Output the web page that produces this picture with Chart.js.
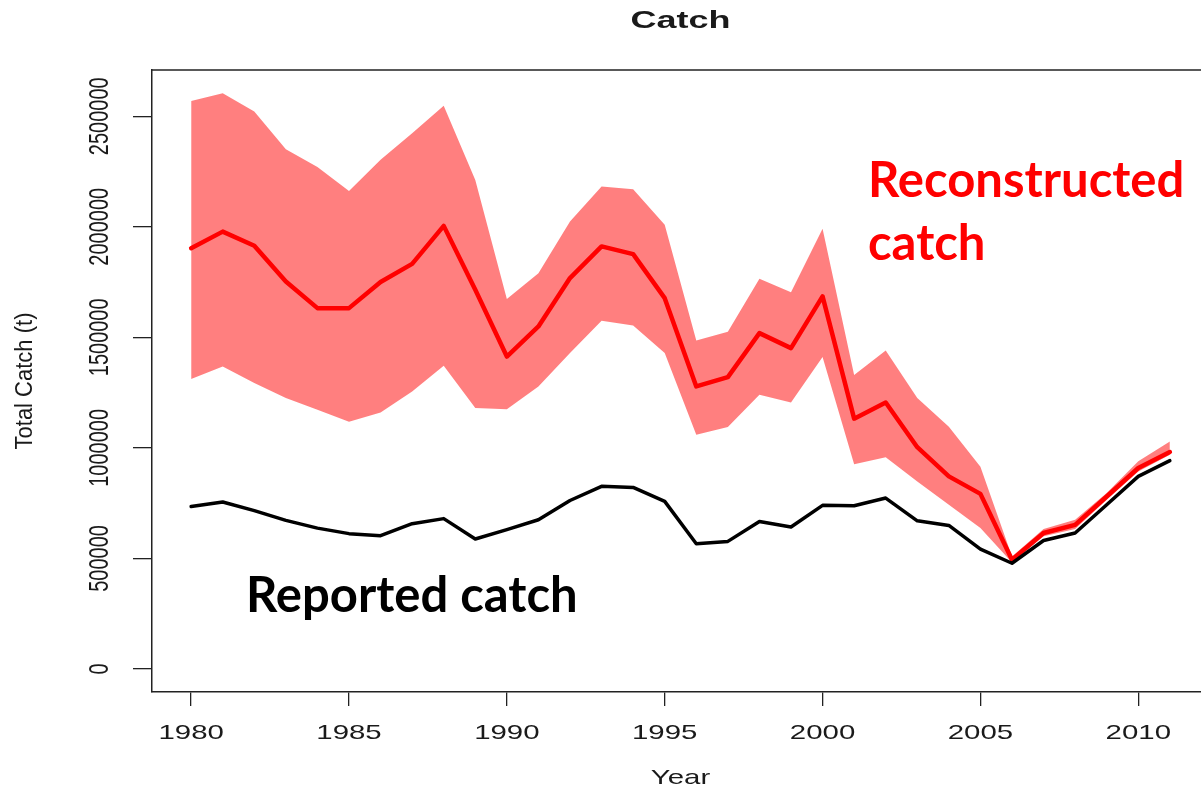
<!DOCTYPE html>
<html>
<head>
<meta charset="utf-8">
<title>Catch</title>
<script src="https://cdn.jsdelivr.net/npm/chart.js@4/dist/chart.umd.min.js"></script>
<style>
  html, body { margin: 0; padding: 0; background: #ffffff; overflow: hidden; }
  #wrap { position: absolute; left: 0; top: 0; width: 1209px; height: 790px; }
</style>
</head>
<body>
<div id="wrap"><canvas id="chart" width="1209" height="790"></canvas></div>
<script>
// Annual catch, 1980-2011 (tonnes)
const years = [1980,1981,1982,1983,1984,1985,1986,1987,1988,1989,1990,1991,1992,1993,1994,1995,
               1996,1997,1998,1999,2000,2001,2002,2003,2004,2005,2006,2007,2008,2009,2010,2011];

const reportedCatch = [735000,755000,716000,672000,637000,612000,603000,657000,680000,588000,630000,675000,
                       762000,826000,821000,758000,566000,577000,667000,642000,740000,738000,773000,670000,
                       649000,542000,478000,581000,615000,743000,871000,942000];

const reconstructedCatch = [1903000,1978000,1914000,1752000,1632000,1632000,1750000,1832000,2004000,1715000,
                            1413000,1549000,1768000,1911000,1876000,1677000,1278000,1320000,1519000,1451000,
                            1685000,1132000,1205000,1003000,871000,792000,494000,615000,652000,780000,909000,981000];

const reconstructedUpper = [2569000,2604000,2521000,2351000,2270000,2162000,2303000,2423000,2547000,2212000,
                            1673000,1790000,2024000,2182000,2170000,2009000,1486000,1525000,1765000,1704000,
                            1991000,1330000,1440000,1225000,1095000,915000,509000,633000,675000,796000,939000,1029000];

const reconstructedLower = [1311000,1368000,1293000,1225000,1172000,1118000,1160000,1255000,1371000,1180000,
                            1175000,1278000,1429000,1575000,1553000,1429000,1059000,1094000,1240000,1205000,
                            1411000,926000,958000,848000,743000,637000,482000,600000,633000,765000,893000,969000];

const yearTicks = [1980,1985,1990,1995,2000,2005,2010];
const catchTicks = [0,500000,1000000,1500000,2000000,2500000];

const AXIS_FONT = '"Liberation Sans", Arial, Helvetica, sans-serif';
const NOTE_FONT = 'Lato, "Open Sans", sans-serif';
const INK = '#1a1a1a';
const WIDE = 1.4;   // horizontal widening of the axis lettering

const pts = arr => years.map((yr, i) => ({ x: yr, y: arr[i] }));

function drawText(ctx, str, x, y, o) {
  ctx.save();
  ctx.translate(x, y);
  if (o.rotate) ctx.rotate(o.rotate);
  ctx.scale(o.sx || 1, o.sy || 1);
  ctx.font = o.font;
  ctx.fillStyle = o.color || INK;
  ctx.textAlign = o.align || 'center';
  ctx.textBaseline = o.baseline || 'middle';
  ctx.fillText(str, 0, 0);
  ctx.restore();
}

// Frame top edge, axis lettering and the two series notes
const lettering = {
  id: 'lettering',
  afterDraw(chart) {
    const { ctx, chartArea: a, scales } = chart;
    const xs = scales.x, ys = scales.y;
    ctx.save();
    ctx.strokeStyle = '#222';
    ctx.lineWidth = 1.5;
    ctx.beginPath();
    ctx.moveTo(a.left, a.top);
    ctx.lineTo(a.right, a.top);
    ctx.stroke();
    ctx.restore();

    const midX = (a.left + a.right) / 2;
    const midY = (a.top + a.bottom) / 2;

    drawText(ctx, 'Catch', midX, 21, { font: 'bold 24px ' + AXIS_FONT, sx: 1.5 });

    yearTicks.forEach(v => {
      drawText(ctx, String(v), xs.getPixelForValue(v), 733, { font: '21px ' + AXIS_FONT, sx: WIDE });
    });
    drawText(ctx, 'Year', midX, 778, { font: '21px ' + AXIS_FONT, sx: WIDE });

    catchTicks.forEach(v => {
      drawText(ctx, String(v), 100, ys.getPixelForValue(v),
               { font: '20px ' + AXIS_FONT, rotate: -Math.PI / 2, sy: WIDE });
    });
    drawText(ctx, 'Total Catch (t)', 26, midY,
             { font: '22px ' + AXIS_FONT, rotate: -Math.PI / 2, sy: 1.05 });

    drawText(ctx, 'Reconstructed', 868, 197,
             { font: 'bold 49px ' + NOTE_FONT, color: '#ff0000', align: 'left', baseline: 'alphabetic' });
    drawText(ctx, 'catch', 868, 260,
             { font: 'bold 49px ' + NOTE_FONT, color: '#ff0000', align: 'left', baseline: 'alphabetic' });
    drawText(ctx, 'Reported catch', 246, 612,
             { font: 'bold 49px ' + NOTE_FONT, color: '#000000', align: 'left', baseline: 'alphabetic' });
  }
};

new Chart(document.getElementById('chart'), {
  type: 'line',
  data: {
    datasets: [
      { label: 'Reported catch', data: pts(reportedCatch), borderColor: '#000000', borderWidth: 3.5,
        pointRadius: 0, fill: false, tension: 0, borderJoinStyle: 'round', borderCapStyle: 'round' },
      { label: 'Reconstructed catch', data: pts(reconstructedCatch), borderColor: '#ff0000', borderWidth: 4.5,
        pointRadius: 0, fill: false, tension: 0, borderJoinStyle: 'round', borderCapStyle: 'round' },
      { label: 'Upper bound', data: pts(reconstructedUpper), borderWidth: 0, borderColor: 'rgba(0,0,0,0)',
        backgroundColor: 'rgba(255,0,0,0.5)', pointRadius: 0, fill: '+1', tension: 0 },
      { label: 'Lower bound', data: pts(reconstructedLower), borderWidth: 0, borderColor: 'rgba(0,0,0,0)',
        pointRadius: 0, fill: false, tension: 0 }
    ]
  },
  options: {
    responsive: false,
    devicePixelRatio: 1,
    animation: false,
    events: [],
    layout: { padding: { top: 70, left: 0, right: 0, bottom: 0 } },
    plugins: { legend: { display: false }, tooltip: { enabled: false }, title: { display: false } },
    scales: {
      x: {
        type: 'linear', min: 1978.76, max: 2012.24,
        afterBuildTicks: s => { s.ticks = yearTicks.map(v => ({ value: v })); },
        afterFit: s => { s.height = 98; s.paddingLeft = 0; s.paddingRight = 0; },
        ticks: { display: false },
        grid: { display: true, drawOnChartArea: false, drawTicks: true, tickLength: 14, color: '#222', lineWidth: 1.3 },
        border: { display: true, color: '#222', width: 1.5 }
      },
      y: {
        type: 'linear', min: -104200, max: 2709000,
        afterBuildTicks: s => { s.ticks = catchTicks.map(v => ({ value: v })); },
        afterFit: s => { s.width = 152; s.paddingTop = 0; s.paddingBottom = 0; },
        ticks: { display: false },
        grid: { display: true, drawOnChartArea: false, drawTicks: true, tickLength: 19, color: '#222', lineWidth: 1.3 },
        border: { display: true, color: '#222', width: 1.5 }
      }
    }
  },
  plugins: [lettering]
});
</script>
</body>
</html>
